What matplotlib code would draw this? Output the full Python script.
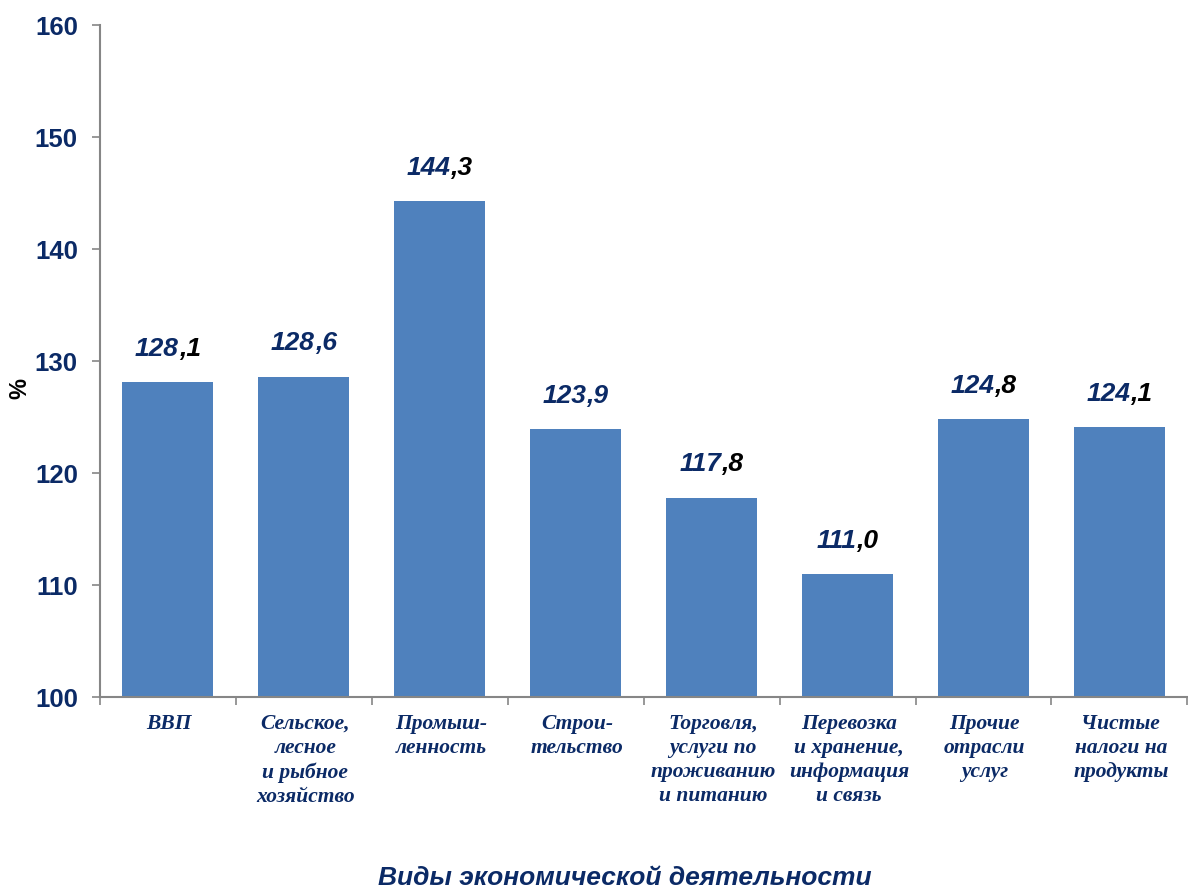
import matplotlib
matplotlib.use("Agg")
import matplotlib.pyplot as plt
import numpy as np
from matplotlib.ticker import FixedLocator, NullFormatter
from matplotlib import font_manager as fm

categories = ["ВВП", "Сельское,\nлесное\nи рыбное\nхозяйство", "Промыш-\nленность",
              "Строи-\nтельство", "Торговля,\nуслуги по\nпроживанию\nи питанию",
              "Перевозка\nи хранение,\nинформация\nи связь", "Прочие\nотрасли\nуслуг",
              "Чистые\nналоги на\nпродукты"]
values = [128.1, 128.6, 144.3, 123.9, 117.8, 111.0, 124.8, 124.1]
labels = ["128,1", "128,6", "144,3", "123,9", "117,8", "111,0", "124,8", "124,1"]
decimal_dark = [True, False, True, False, True, True, True, True]
yticks = [100, 110, 120, 130, 140, 150, 160]

navy = "#0B2A66"
bar_color = "#4F81BD"
gray = "#868686"


def find_font(name, bold, italic):
    for f in fm.fontManager.ttflist:
        if f.name == name and ("Narrow" not in f.fname):
            isbold = f.weight in ("bold", 700) or (isinstance(f.weight, int) and f.weight >= 700)
            isit = f.style in ("italic", "oblique")
            if isbold == bold and isit == italic:
                return f.fname
    return None


def fp(name, bold, italic, size):
    path = find_font(name, bold, italic)
    if path:
        return fm.FontProperties(fname=path, size=size)
    return fm.FontProperties(family=name, weight="bold" if bold else "normal",
                             style="italic" if italic else "normal", size=size)


tick_fp = fp("Liberation Sans", True, False, 18.5)
val_fp = fp("Liberation Sans", True, True, 19)
cat_fp = fp("Liberation Serif", True, True, 15.5)
xl_fp = fp("Liberation Sans", True, True, 19)
pct_fp = fp("Liberation Sans", True, False, 17)

fig = plt.figure(figsize=(11.88, 8.88), dpi=100)
ax = fig.add_axes([100/1188, 1 - 697/888, (1188-100)/1188 - 0.0005, (697-25)/888])

x = np.arange(len(values))
ax.bar(x, [v - 100 for v in values], bottom=100, width=0.67, color=bar_color, zorder=2)
ax.set_xlim(-0.5, len(values) - 0.5)
ax.set_ylim(100, 160)
ax.set_yticks(yticks)
ax.set_yticklabels([str(t) for t in yticks], color=navy)
for t in ax.get_yticklabels():
    t.set_fontproperties(tick_fp)
ax.tick_params(axis="y", direction="out", length=6, width=1.2, color=gray, pad=10)

ax.xaxis.set_major_locator(FixedLocator(list(np.arange(len(values) + 1) - 0.5)))
ax.xaxis.set_major_formatter(NullFormatter())
ax.tick_params(axis="x", which="major", direction="out", length=6, width=1.2, color=gray)
for i, c in enumerate(categories):
    ax.text(i + 0.01, 98.5, c, ha="center", va="top", fontproperties=cat_fp,
            color=navy, linespacing=1.27)

for s in ["top", "right"]:
    ax.spines[s].set_visible(False)
for s in ["left", "bottom"]:
    ax.spines[s].set_color(gray)
    ax.spines[s].set_linewidth(1.5)

fig.canvas.draw()
renderer = fig.canvas.get_renderer()
for i, (v, l, dk) in enumerate(zip(values, labels, decimal_dark)):
    full = ax.text(i, v + 1.9, l, ha="center", va="bottom", fontproperties=val_fp,
                   color=navy, alpha=0)
    bb = full.get_window_extent(renderer)
    inv = ax.transData.inverted()
    x0 = inv.transform((bb.x0, 0))[0]
    x1 = inv.transform((bb.x1, 0))[0]
    ip, dp = l.split(",")
    ax.text(x0, v + 1.9, ip, ha="left", va="bottom", fontproperties=val_fp, color=navy)
    ax.text(x1, v + 1.9, "," + dp, ha="right", va="bottom", fontproperties=val_fp,
            color="black" if dk else navy)

fig.text(20/1188, 1 - 388/888, "%", rotation=90, ha="center", va="center",
         fontproperties=pct_fp, color="black")
fig.text(625/1188, 1 - 878/888, "Виды экономической деятельности", ha="center", va="center",
         fontproperties=xl_fp, color=navy)

fig.savefig("out.png", dpi=100)
